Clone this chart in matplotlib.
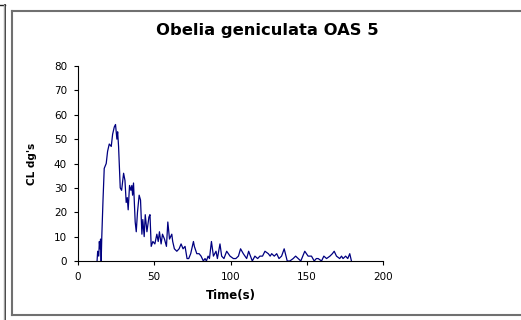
import matplotlib
matplotlib.use("Agg")
import matplotlib.pyplot as plt
from matplotlib.lines import Line2D

# time (s) and counts
time_s = [12.5, 12.9, 13.6, 14.0, 14.4, 14.8, 15.2, 15.6, 16.4, 17.2, 18.5, 19.4,
          20.5, 21.8, 22.7, 23.8, 24.6, 25.5, 26.0, 26.6, 27.7, 28.6, 29.9, 30.8,
          31.6, 32.3, 32.9, 33.8, 34.7, 35.3, 35.8, 36.4, 37.5, 38.2, 39.0, 40.1,
          41.0, 41.9, 42.5, 43.4, 44.1, 45.2, 46.5, 47.2, 48.0, 49.1, 50.4, 51.7,
          52.6, 53.4, 54.5, 55.4, 56.7, 58.0, 58.9, 60.0, 61.5, 62.1, 63.2, 64.8,
          66.3, 67.6, 68.9, 70.2, 71.5, 72.6, 73.9, 75.7, 76.3, 77.9, 79.4, 80.7,
          82.2, 83.3, 84.2, 85.3, 86.2, 87.5, 88.8, 90.5, 91.4, 93.1, 94.2, 95.7,
          97.5, 99.7, 101.9, 103.5, 105.2, 106.6, 108.4, 110.6, 111.9, 114.3, 116.0,
          117.8, 119.3, 121.0, 122.6, 124.8, 126.0, 127.0, 128.7, 130.3, 131.8,
          133.5, 135.2, 137.2, 138.9, 141.1, 142.7, 144.4, 146.1, 147.4, 148.7,
          150.9, 153.1, 154.9, 156.3, 157.5, 159.7, 161.2, 163.0, 165.2, 166.8,
          168.0, 169.5, 171.6, 172.8, 173.8, 175.5, 176.9, 178.2, 179.3]
counts = [0, 4, 2, 8, 5, 9, 0, 10, 25, 38, 40, 45,
          48, 47, 52, 55, 56, 50, 53, 47, 30, 29, 36, 33,
          24, 26, 21, 31, 29, 31, 27, 32, 16, 12, 20, 27,
          25, 11, 17, 10, 19, 12, 18, 19, 6, 8, 7, 11,
          8, 12, 7, 11, 9, 6, 16, 9, 11, 8, 5, 4,
          5, 7, 5, 6, 1, 1, 3, 8, 6, 3, 3, 2,
          0, 1, 0, 2, 1, 8, 2, 4, 1, 7, 2, 1,
          4, 2, 1, 1, 2, 5, 3, 1, 4, 0, 2,
          1, 2, 2, 4, 3, 2, 3, 2, 3, 1,
          2, 5, 0, 0, 1, 2, 1, 0, 2, 4,
          2, 2, 0, 1, 1, 0, 2, 1, 2, 3,
          4, 2, 1, 2, 1, 2, 1, 3, 0]

x_ticks = [0, 50, 100, 150, 200]
y_ticks = [0, 10, 20, 30, 40, 50, 60, 70, 80]

plt.rcParams['font.family'] = ['DejaVu Sans']

W, H = 521, 320
fig = plt.figure(figsize=(W / 100, H / 100), dpi=100)
fig.patch.set_facecolor('white')

def px(x, y):
    return x / W, 1 - y / H

# frame lines around the chart area
for xs, ys, col, lw in [
    ([0, 5], [5, 5], '#202020', 1.0),
    ([5, 5], [5, 320], '#101010', 1.2),
    ([3.5, 3.5], [5, 320], '#a0a0a0', 1.0),
    ([11.5, 521], [10.5, 10.5], '#707070', 1.5),
    ([11.5, 11.5], [10.5, 314.5], '#707070', 1.5),
    ([11.5, 521], [314.5, 314.5], '#707070', 1.5),
]:
    fx = [px(x, 0)[0] for x in xs]
    fy = [px(0, y)[1] for y in ys]
    fig.add_artist(Line2D(fx, fy, color=col, lw=lw, transform=fig.transFigure))

ax = fig.add_axes([78 / W, 1 - 261 / H, (383 - 78) / W, (261 - 66) / H])
ax.plot(time_s, counts, color='#000080', lw=0.9)
ax.set_xlim(0, 200)
ax.set_ylim(0, 80)
ax.set_xticks(x_ticks)
ax.set_yticks(y_ticks)
for s in ['top', 'right']:
    ax.spines[s].set_visible(False)
for s in ['left', 'bottom']:
    ax.spines[s].set_color('black')
    ax.spines[s].set_linewidth(0.8)
ax.tick_params(direction='out', length=3, width=0.8, labelsize=7.5)
ax.tick_params(axis='y', pad=5)
ax.tick_params(axis='x', pad=5)

ax.set_xlabel('Time(s)', fontsize=8.5, fontweight='bold', labelpad=5)
ax.set_ylabel("CL dg's", fontsize=7.5, fontweight='bold', labelpad=12)

tx, ty = px(267, 30)
fig.text(tx, ty, 'Obelia geniculata OAS 5', ha='center', va='center',
         fontsize=11.8, fontweight='bold')

fig.savefig('out.png', dpi=100)
